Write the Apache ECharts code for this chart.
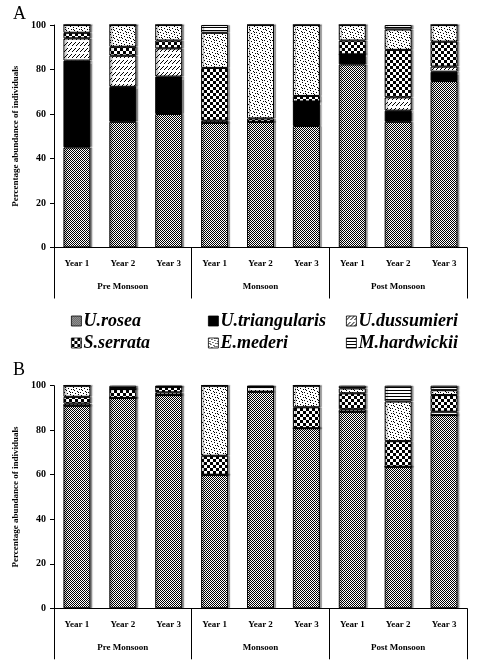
<!DOCTYPE html>
<html>
<head>
<meta charset="utf-8">
<script src="https://cdn.jsdelivr.net/npm/echarts@6/dist/echarts.min.js"></script>
<style>
  html, body { margin: 0; padding: 0; background: #fff; }
  #main { width: 478px; height: 665px; }
</style>
</head>
<body>
<div id="main"></div>
<script>
// 数据
var years = ['Year 1', 'Year 2', 'Year 3', 'Year 1', 'Year 2', 'Year 3', 'Year 1', 'Year 2', 'Year 3'];
var seasons = ['Pre Monsoon', 'Monsoon', 'Post Monsoon'];
var yTicks = [0, 20, 40, 60, 80, 100];

var roseaA = [45, 56.5, 60, 56, 56.5, 54.6, 82.3, 56.5, 74.8];
var triangularisA = [39, 15.7, 16.8, 0, 0, 11, 4.5, 5, 4.2];
var dussumieriA = [10, 14, 12.7, 1, 0, 0, 0, 6, 2.3];
var serrataA = [2.5, 4, 3.5, 23.7, 1.5, 2.5, 6.2, 21.3, 11.2];
var mederiA = [3.5, 9.8, 7, 15.8, 42, 31.9, 7, 9.2, 7.5];
var hardwickiiA = [0, 0, 0, 3.5, 0, 0, 0, 2, 0];

var roseaB = [91, 94.5, 95.8, 60, 97.3, 80.9, 88.3, 63.6, 86.8];
var triangularisB = [0, 0, 0, 0, 0, 0, 0, 0, 0];
var dussumieriB = [1, 0, 1.2, 0, 2.2, 0, 1.1, 0, 1.5];
var serrataB = [3, 4, 2.5, 8.5, 0, 9.4, 7.2, 11.5, 7.5];
var mederiB = [5, 0, 0, 31.5, 0, 9.7, 2.2, 17.8, 2.2];
var hardwickiiB = [0, 1.5, 0.5, 0, 0.5, 0, 1.2, 7.1, 2];

var speciesNames = ['U.rosea', 'U.triangularis', 'U.dussumieri', 'S.serrata', 'E.mederi', 'M.hardwickii'];

// 填充图案
var makePattern = function (w, h, draw) {
    var c = document.createElement('canvas');
    c.width = w;
    c.height = h;
    var ctx = c.getContext('2d');
    ctx.fillStyle = '#fff';
    ctx.fillRect(0, 0, w, h);
    ctx.fillStyle = '#000';
    draw(ctx);
    return { image: c, repeat: 'repeat' };
};

var patterns = [
    // U.rosea - fine grey checks
    makePattern(2, 2, function (ctx) {
        ctx.fillRect(0, 0, 1, 1);
        ctx.fillRect(1, 1, 1, 1);
    }),
    // U.triangularis - solid
    '#000',
    // U.dussumieri - rows of diagonal dashes
    makePattern(4, 6, function (ctx) {
        ctx.fillRect(0, 3, 1, 1);
        ctx.fillRect(1, 2, 1, 1);
        ctx.fillRect(2, 1, 1, 1);
        ctx.fillRect(3, 0, 1, 1);
    }),
    // S.serrata - large checks
    makePattern(6, 6, function (ctx) {
        ctx.fillRect(0, 0, 3, 3);
        ctx.fillRect(3, 3, 3, 3);
    }),
    // E.mederi - speckle
    makePattern(8, 8, function (ctx) {
        var pts = [[0, 0], [3, 1], [6, 2], [1, 3], [4, 4], [7, 5], [2, 6], [5, 7], [6, 0], [1, 5]];
        for (var i = 0; i < pts.length; i++) {
            ctx.fillRect(pts[i][0], pts[i][1], 1, 1);
        }
    }),
    // M.hardwickii - horizontal lines
    makePattern(4, 3, function (ctx) {
        ctx.fillRect(0, 0, 4, 1);
    })
];

var serifFont = 'Liberation Serif';

var makeSeries = function (dataList, idx, stack) {
    var list = [];
    for (var i = 0; i < dataList.length; i++) {
        list.push({
            name: speciesNames[i],
            type: 'bar',
            stack: stack,
            xAxisIndex: idx * 2,
            yAxisIndex: idx,
            barWidth: 27,
            data: dataList[i],
            itemStyle: {
                color: patterns[i],
                borderColor: '#000',
                borderWidth: 1,
                shadowColor: 'rgba(0,0,0,0.35)',
                shadowOffsetX: 2,
                shadowBlur: 1
            },
            emphasis: { disabled: true }
        });
    }
    return list;
};

var makeXAxes = function (gridIndex) {
    return [
        {
            type: 'category',
            gridIndex: gridIndex,
            position: 'bottom',
            data: years,
            axisLine: { lineStyle: { color: '#000', width: 1 } },
            axisTick: { show: false },
            axisLabel: { margin: 12, color: '#000', fontFamily: serifFont, fontWeight: 'bold', fontSize: 9 }
        },
        {
            type: 'category',
            gridIndex: gridIndex,
            position: 'bottom',
            data: seasons,
            axisLine: { show: false },
            axisTick: { show: true, length: 51, lineStyle: { color: '#000', width: 1 } },
            axisLabel: { margin: 35, color: '#000', fontFamily: serifFont, fontWeight: 'bold', fontSize: 9 }
        }
    ];
};

var makeYAxis = function (gridIndex) {
    return {
        type: 'value',
        gridIndex: gridIndex,
        min: yTicks[0],
        max: yTicks[yTicks.length - 1],
        interval: 20,
        name: 'Percentage abundance of individuals',
        nameLocation: 'middle',
        nameGap: 32,
        nameTextStyle: { color: '#000', fontFamily: serifFont, fontWeight: 'bold', fontSize: 9 },
        axisLine: { show: true, lineStyle: { color: '#000', width: 1 } },
        axisTick: { show: true, length: 4, lineStyle: { color: '#000' } },
        axisLabel: { color: '#000', fontFamily: serifFont, fontWeight: 'bold', fontSize: 10, margin: 8 },
        splitLine: { show: false }
    };
};

var makeLegend = function (left, names) {
    return {
        orient: 'vertical',
        left: left,
        top: 307,
        icon: 'rect',
        itemWidth: 10,
        itemHeight: 10,
        itemGap: 4,
        selectedMode: false,
        data: names,
        itemStyle: { borderWidth: 0.8, borderColor: '#000' },
        textStyle: { color: '#000', fontFamily: serifFont, fontStyle: 'italic', fontWeight: 'bold', fontSize: 18, padding: [0, 0, 0, -3] }
    };
};

var myChart = echarts.init(document.getElementById('main'));

var option = {
    animation: false,
    backgroundColor: '#fff',
    title: [
        { text: 'A', left: 8, top: 0, textStyle: { color: '#000', fontFamily: serifFont, fontWeight: 'normal', fontSize: 18 } },
        { text: 'B', left: 8, top: 356, textStyle: { color: '#000', fontFamily: serifFont, fontWeight: 'normal', fontSize: 18 } }
    ],
    legend: [
        makeLegend(66, ['U.rosea', 'S.serrata']),
        makeLegend(203, ['U.triangularis', 'E.mederi']),
        makeLegend(341, ['U.dussumieri', 'M.hardwickii'])
    ],
    grid: [
        { left: 54, right: 11, top: 25, bottom: 417.5 },
        { left: 54, right: 11, top: 385.7, bottom: 56.7 }
    ],
    xAxis: makeXAxes(0).concat(makeXAxes(1)),
    yAxis: [makeYAxis(0), makeYAxis(1)],
    series: makeSeries([roseaA, triangularisA, dussumieriA, serrataA, mederiA, hardwickiiA], 0, 'A')
        .concat(makeSeries([roseaB, triangularisB, dussumieriB, serrataB, mederiB, hardwickiiB], 1, 'B'))
};

// 使用刚指定的配置项和数据显示图表。
myChart.setOption(option);
</script>
</body>
</html>
